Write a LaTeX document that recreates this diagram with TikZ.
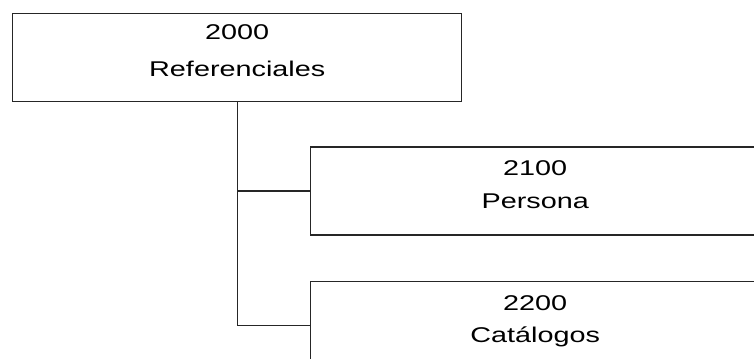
\documentclass[tikz,border=0pt]{standalone}
\usepackage{fontspec}
\setmainfont[FakeStretch=1.35]{Liberation Sans}
\usepackage{tikz}
\usetikzlibrary{positioning}
\tikzset{
  unitbox/.style={rectangle, draw=black!85, line width=1.1pt, minimum width=336.75pt, minimum height=66pt, inner sep=0, align=center, fill=white},
  link/.style={-, draw=black!85, line width=1.1pt}
}
% invisible strut, keeps the two lines a bit above the middle
\newcommand{\liftstrut}{\rule[-10.5pt]{0pt}{0pt}}

\begin{document}
\begin{tikzpicture}
%page size of the scan
\useasboundingbox (0,0) rectangle (565.5pt,-268.5pt);
\clip (0,0) rectangle (565.5pt,-268.5pt);
%top level unit
\node[unitbox, anchor=north west, font=\fontsize{16}{27.75}\selectfont] (referenciales) at (9pt,-9.75pt) {2000\\Referenciales\liftstrut};
%sub units
\node[unitbox, anchor=north west, font=\fontsize{16}{24.75}\selectfont] (persona) at ([xshift=223.5pt, yshift=-33pt]referenciales.south west) {2100\\Persona\liftstrut};
\node[unitbox, font=\fontsize{16}{24}\selectfont, below=33.75pt of persona.south west, anchor=north west] (catalogos) {2200\\Cat\'alogos\liftstrut};
% links
\draw[link] (referenciales.south) |- (persona.west);
\draw[link] (referenciales.south) |- (catalogos.west);
\end{tikzpicture}
\end{document}
